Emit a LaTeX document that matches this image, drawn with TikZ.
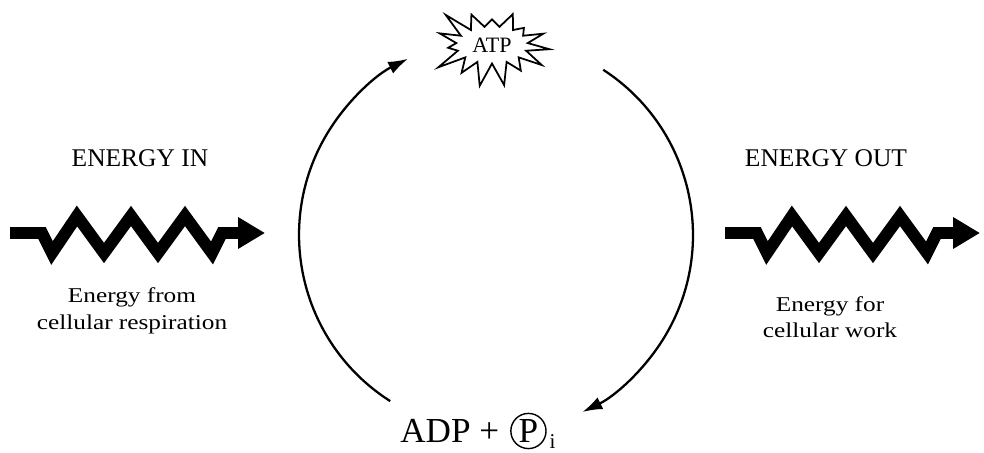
\documentclass[tikz,border=0pt]{standalone}
\usepackage{fontspec}
\setmainfont{Liberation Serif}
\usetikzlibrary{arrows.meta,positioning,shapes.symbols}

\begin{document}
\begin{tikzpicture}[
    x=0.02cm, y=0.02cm,
    title/.style={font=\fontsize{14.5}{16}\selectfont},
    note/.style={font=\addfontfeature{FakeStretch=1.2}\fontsize{12}{15}\selectfont, align=center},
    wave/.style={line width=6.8pt, line join=miter, -{Triangle[length=5.4mm,width=6mm]}},
    cyc/.style={line width=1.3pt, -{Latex[length=4mm,width=2.6mm]}}
]
\useasboundingbox (0,0) rectangle (984,453);

% labels
\node[title] (inTitle) at (140,295) {ENERGY IN};
\node[title] (outTitle) at (826,295) {ENERGY OUT};
\node[note] (inNote) at (132,142) {Energy from\\cellular respiration};
\node[note] (outNote) at (830,136) {Energy for\\cellular work};

% cycle
\coordinate (c) at (496,218);
\node[starburst, draw, line width=1pt, starburst points=15, starburst point height=0.55cm,
      random starburst=23, minimum width=2.3cm, minimum height=1.75cm,
      font=\fontsize{12.5}{13}\selectfont] (atp) at (492,408) {ATP};
\node[font=\fontsize{20}{22}\selectfont, inner sep=0pt, anchor=west] (adp) at (400,22) {ADP +};
\node[circle, draw, line width=0.8pt, inner sep=1pt, right=6pt of adp,
      font=\fontsize{20}{22}\selectfont] (pi) {P};
\node[font=\fontsize{12}{12}\selectfont, inner sep=0pt, anchor=south west] (isub) at ([xshift=1.5pt,yshift=0.5pt]pi.east |- pi.south) {i};

\draw[cyc] ([shift={(237.5:3.94cm)}]c) arc[start angle=237.5, end angle=116.5, radius=3.94cm];
\draw[cyc] ([shift={(57:3.94cm)}]c) arc[start angle=57, end angle=-64, radius=3.94cm];

% energy arrows
\coordinate (inS) at (10,220);
\coordinate (inE) at (265,220);
\coordinate (outS) at (725,220);
\coordinate (outE) at (980,220);
\draw[wave] (inS) -- ++(32,0) -- ++(10,-20) -- ++(25,37) -- ++(27,-37) -- ++(27,37)
    -- ++(27,-37) -- ++(27,37) -- ++(27,-37) -- ++(10,20) -- (inE);
\draw[wave] (outS) -- ++(32,0) -- ++(10,-20) -- ++(25,37) -- ++(27,-37) -- ++(27,37)
    -- ++(27,-37) -- ++(27,37) -- ++(27,-37) -- ++(10,20) -- (outE);
\end{tikzpicture}
\end{document}
